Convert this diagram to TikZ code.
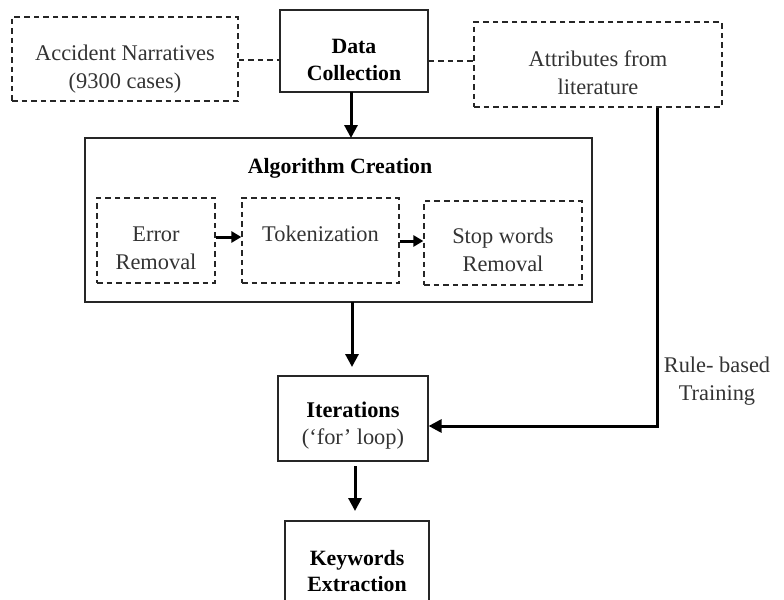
\documentclass[tikz,border=0pt]{standalone}
\usepackage{fontspec}
\setmainfont{Liberation Serif}
\usetikzlibrary{arrows.meta}
\begin{document}
\begin{tikzpicture}[x=0.5pt,y=-0.5pt,
  font=\fontsize{11.2pt}{13.8pt}\selectfont,
  solidbox/.style={draw=black!85, line width=0.6pt, inner sep=0pt},
  dashbox/.style={draw=black!85, line width=0.6pt, inner sep=0pt, dash pattern=on 2.8pt off 2pt},
  txt/.style={align=center, text=black!80, inner sep=0pt},
  btxt/.style={align=center, text=black, inner sep=0pt, font=\fontsize{10.9pt}{13.4pt}\selectfont\bfseries},
  dashlink/.style={draw=black!85, line width=0.6pt, dash pattern=on 2.8pt off 2pt},
  flow/.style={draw=black, line width=1.5pt, -{Triangle[length=6.5pt,width=6.5pt]}},
  smallflow/.style={draw=black, line width=1.5pt, -{Triangle[length=5pt,width=5.5pt]}}
]
\useasboundingbox (0,0) rectangle (784,600);
\clip (0,0) rectangle (784,600);

% top row
\node[dashbox, minimum width=113pt, minimum height=42pt,
      label={[txt, name=acct, yshift=-5pt]center:{Accident Narratives\\(9300 cases)}}] (acc) at (125,59) {};
\node[solidbox, minimum width=74pt, minimum height=41pt,
      label={[btxt, name=datat, yshift=-4.5pt]center:{Data\\Collection}}] (data) at (354,51) {};
\node[dashbox, minimum width=124pt, minimum height=42.5pt,
      label={[txt, name=attrt, yshift=-4pt]center:{Attributes from\\literature}}] (attr) at (598,64.5) {};

% algorithm creation
\node[solidbox, minimum width=253.5pt, minimum height=82pt] (alg) at (338.5,220) {};
\node[btxt] (algt) at (340,168.5) {Algorithm Creation};
\node[dashbox, minimum width=59pt, minimum height=42.5pt,
      label={[txt, name=errt, yshift=-4pt]center:{Error\\Removal}}] (err) at (156,240.5) {};
\node[dashbox, minimum width=78.5pt, minimum height=42.5pt,
      label={[txt, name=tokt, yshift=3.5pt]center:{Tokenization}}] (tok) at (320.5,240.5) {};
\node[dashbox, minimum width=79pt, minimum height=42pt,
      label={[txt, name=stopt, yshift=-3.5pt]center:{Stop words\\Removal}}] (stop) at (503,243) {};

% lower boxes
\node[solidbox, minimum width=75pt, minimum height=42.5pt,
      label={[txt, name=itert, yshift=-3.5pt]center:{\textcolor{black}{\bfseries Iterations}\\(‘for’ loop)}}] (iter) at (353,418.5) {};
\node[solidbox, minimum width=72pt, minimum height=50pt,
      label={[btxt, name=keyt, yshift=0pt]center:{Keywords\\Extraction}}] (key) at (357,571) {};

\node[txt] (rule) at (717,381) {Rule- based\\Training};

\coordinate (corner) at (657,426);

% connectors
\draw[dashlink] (acc.east |- 0,60) -- (data.west |- 0,60);
\draw[dashlink] (data.east |- 0,61) -- (attr.west |- 0,61);
\draw[flow] (351,92) -- (351,138);
\draw[smallflow] (err.east |- 0,237) -- (tok.west |- 0,237);
\draw[smallflow] (tok.east |- 0,241) -- (stop.west |- 0,241);
\draw[flow] (352,302) -- (352,367);
\draw[flow] (355,466) -- (355,511);
\draw[flow] (attr.south -| corner) -- (corner) -- (iter.east |- corner);
\end{tikzpicture}
\end{document}
